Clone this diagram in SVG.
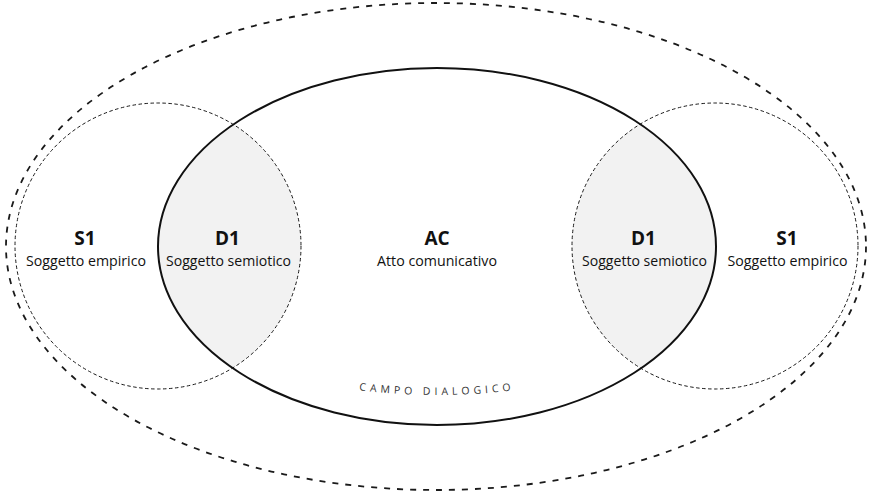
<svg xmlns="http://www.w3.org/2000/svg" width="872" height="496" viewBox="0 0 872 496">
<style>
  .outer{fill:none;stroke:#1a1a1a;stroke-width:1.8;stroke-dasharray:6 7}
  .circ{fill:none;stroke:#1a1a1a;stroke-width:1;stroke-dasharray:3.5 2.5}
  .lens{fill:#f2f2f2;stroke:none}
  .main{fill:none;stroke:#111;stroke-width:2}
  .t{font-family:"Open Sans","Noto Sans","Liberation Sans",sans-serif;fill:#111;text-anchor:middle}
  .b{font-weight:bold;font-size:19px}
  .n{font-size:15px}
  .f{font-size:10.5px;letter-spacing:4px;fill:#333}
</style>
<defs>
  <clipPath id="clipAC"><ellipse cx="437" cy="246.5" rx="279" ry="178.5"/></clipPath>
  <path id="arc" d="M 330 386 Q 437 404 544 386"/>
</defs>
<rect width="872" height="496" fill="#fff"/>
<g id="campo-esterno">
  <ellipse class="outer" cx="436" cy="246.5" rx="430" ry="243.5"/>
</g>
<g id="lenti">
  <circle class="lens" cx="158" cy="246" r="143" clip-path="url(#clipAC)"/>
  <circle class="lens" cx="715" cy="246" r="143" clip-path="url(#clipAC)"/>
</g>
<g id="S1-sinistra">
  <circle class="circ" cx="158" cy="246" r="143"/>
  <text class="t b" x="85" y="244.5">S1</text>
  <text class="t n" x="86" y="266" textLength="120" lengthAdjust="spacingAndGlyphs">Soggetto empirico</text>
</g>
<g id="S1-destra">
  <circle class="circ" cx="715" cy="246" r="143"/>
  <text class="t b" x="787" y="244.5">S1</text>
  <text class="t n" x="787.5" y="266" textLength="120" lengthAdjust="spacingAndGlyphs">Soggetto empirico</text>
</g>
<g id="AC">
  <ellipse class="main" cx="437" cy="246.5" rx="279" ry="178.5"/>
  <text class="t b" x="437" y="244.5">AC</text>
  <text class="t n" x="437" y="266" textLength="120" lengthAdjust="spacingAndGlyphs">Atto comunicativo</text>
  <text class="t f"><textPath href="#arc" startOffset="50%">CAMPO DIALOGICO</textPath></text>
</g>
<g id="D1-sinistra">
  <text class="t b" x="227.5" y="244.5">D1</text>
  <text class="t n" x="228.5" y="266" textLength="125" lengthAdjust="spacingAndGlyphs">Soggetto semiotico</text>
</g>
<g id="D1-destra">
  <text class="t b" x="643.5" y="244.5">D1</text>
  <text class="t n" x="644.5" y="266" textLength="125" lengthAdjust="spacingAndGlyphs">Soggetto semiotico</text>
</g>
<g id="connettori"></g>
</svg>
